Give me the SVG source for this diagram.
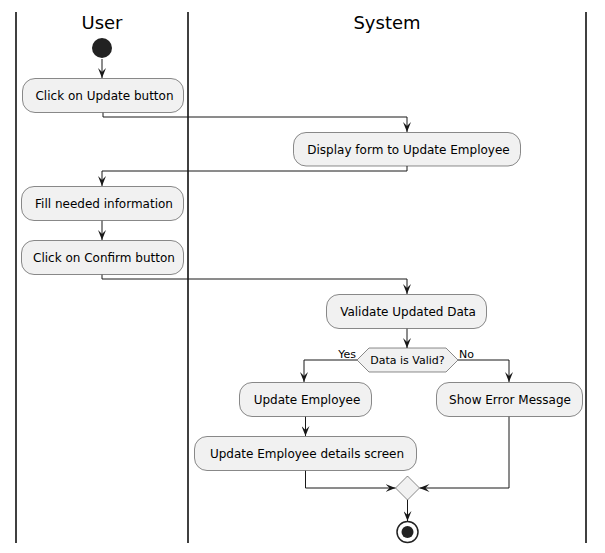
<svg xmlns="http://www.w3.org/2000/svg" width="605" height="553" viewBox="0 0 605 553">
<style>
.lane{stroke:#000;stroke-width:1.5;fill:none}
.title{font-family:"DejaVu Sans",sans-serif;font-size:18px;fill:#000;text-anchor:middle}
.box{fill:#F1F1F1;stroke:#181818;stroke-width:0.5}
.lbl{font-family:"DejaVu Sans",sans-serif;font-size:12px;fill:#000;text-anchor:middle}
.small{font-family:"DejaVu Sans",sans-serif;font-size:11px;fill:#000}
.edge{stroke:#181818;stroke-width:1;fill:none;marker-end:url(#ah)}
</style>
<defs>
<marker id="ah" markerUnits="userSpaceOnUse" markerWidth="10" markerHeight="8" refX="10" refY="4" orient="auto" viewBox="0 0 10 8">
<path d="M0,0 L10,4 L0,8 L4,4 Z" fill="#181818"/>
</marker>
</defs>
<g id="lanes">
<line class="lane" x1="16" y1="12" x2="16" y2="543"/>
<line class="lane" x1="188" y1="12" x2="188" y2="543"/>
<line class="lane" x1="586" y1="12" x2="586" y2="543"/>
<text class="title" x="102" y="29">User</text>
<text class="title" x="387" y="29">System</text>
</g>
<g id="connectors">
<path class="edge" d="M102,59 L102,78"/>
<path class="edge" d="M103,112.5 L103,117 L407,117 L407,132"/>
<path class="edge" d="M407,166 L407,171 L102,171 L102,186"/>
<path class="edge" d="M102,220.5 L102,240"/>
<path class="edge" d="M102,274.5 L102,279 L407,279 L407,294"/>
<path class="edge" d="M407,328.5 L407,348"/>
<path class="edge" d="M357,360 L304,360 L304,382"/>
<path class="edge" d="M458,360 L509,360 L509,382"/>
<path class="edge" d="M305.5,416.5 L305.5,436"/>
<path class="edge" d="M305.5,470.5 L305.5,488 L395.5,488"/>
<path class="edge" d="M509,416.5 L509,488 L419.5,488"/>
<path class="edge" d="M407.5,500 L407.5,521"/>
<text class="small" x="356" y="358" text-anchor="end">Yes</text>
<text class="small" x="459" y="358">No</text>
</g>
<g id="start"><circle cx="102" cy="48" r="10" fill="#222222"/></g>
<g id="n1"><rect class="box" x="22.5" y="78.5" width="161" height="34" rx="12.5"/><text class="lbl" x="104.5" y="100">Click on Update button</text></g>
<g id="n2"><rect class="box" x="293.5" y="132.5" width="227" height="33.5" rx="12.5"/><text class="lbl" x="408.5" y="154">Display form to Update Employee</text></g>
<g id="n3"><rect class="box" x="21.5" y="186.5" width="162" height="34" rx="12.5"/><text class="lbl" x="104" y="208">Fill needed information</text></g>
<g id="n4"><rect class="box" x="21.5" y="240.5" width="162" height="34" rx="12.5"/><text class="lbl" x="104" y="262">Click on Confirm button</text></g>
<g id="n5"><rect class="box" x="326.5" y="294.5" width="160" height="34" rx="12.5"/><text class="lbl" x="408" y="316">Validate Updated Data</text></g>
<g id="decision"><polygon class="box" points="357,360 369,348 446,348 458,360 446,372 369,372"/><text class="small" x="407.5" y="364" text-anchor="middle">Data is Valid?</text></g>
<g id="n6"><rect class="box" x="239.5" y="382.5" width="132" height="34" rx="12.5"/><text class="lbl" x="307" y="404">Update Employee</text></g>
<g id="n7"><rect class="box" x="436.5" y="382.5" width="146" height="34" rx="12.5"/><text class="lbl" x="510" y="404">Show Error Message</text></g>
<g id="n8"><rect class="box" x="194.5" y="436.5" width="222" height="34" rx="12.5"/><text class="lbl" x="307" y="458">Update Employee details screen</text></g>
<g id="merge"><polygon class="box" points="395.5,488 407.5,476 419.5,488 407.5,500"/></g>
<g id="end"><circle cx="407.5" cy="532" r="10.5" fill="none" stroke="#222222" stroke-width="1.5"/><circle cx="407.5" cy="532" r="6" fill="#222222"/></g>
</svg>
